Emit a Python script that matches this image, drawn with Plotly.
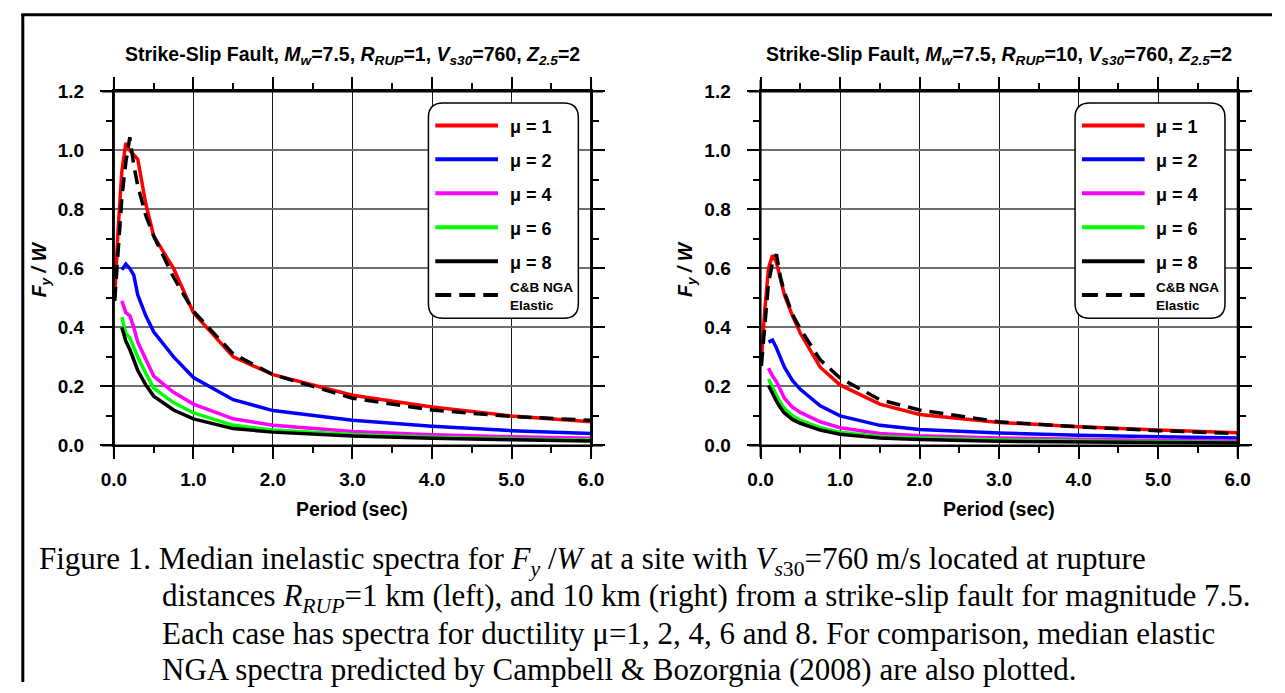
import plotly.graph_objects as go

# ---------------- data ----------------
PERIOD_ELASTIC = [0.01, 0.05, 0.1, 0.15, 0.2, 0.25, 0.3, 0.4, 0.5, 0.75, 1.0, 1.5, 2.0, 3.0, 4.0, 5.0, 6.0]
PERIOD_INELASTIC = [0.1, 0.15, 0.2, 0.25, 0.3, 0.4, 0.5, 0.75, 1.0, 1.5, 2.0, 3.0, 4.0, 5.0, 6.0]

# Left panel: R_RUP = 1 km
L_MU1 = [0.50, 0.72, 0.93, 1.025, 1.00, 0.985, 0.97, 0.82, 0.71, 0.60, 0.45, 0.30, 0.24, 0.17, 0.13, 0.10, 0.08]
L_ELASTIC = [0.49, 0.66, 0.84, 0.96, 1.045, 0.95, 0.88, 0.78, 0.71, 0.57, 0.455, 0.31, 0.24, 0.16, 0.12, 0.098, 0.085]
L_MU2 = [0.595, 0.615, 0.60, 0.577, 0.51, 0.44, 0.385, 0.30, 0.23, 0.155, 0.118, 0.085, 0.065, 0.05, 0.04]
L_MU4 = [0.49, 0.45, 0.44, 0.40, 0.35, 0.29, 0.235, 0.18, 0.14, 0.09, 0.068, 0.047, 0.036, 0.029, 0.024]
L_MU6 = [0.435, 0.38, 0.365, 0.33, 0.30, 0.245, 0.194, 0.145, 0.11, 0.068, 0.052, 0.037, 0.028, 0.022, 0.018]
L_MU8 = [0.40, 0.353, 0.325, 0.29, 0.254, 0.205, 0.167, 0.12, 0.09, 0.057, 0.045, 0.032, 0.024, 0.019, 0.015]

# Right panel: R_RUP = 10 km
R_MU1 = [0.285, 0.45, 0.60, 0.645, 0.62, 0.56, 0.51, 0.44, 0.38, 0.265, 0.205, 0.14, 0.105, 0.078, 0.063, 0.052, 0.043]
R_ELASTIC = [0.27, 0.40, 0.55, 0.62, 0.648, 0.57, 0.52, 0.445, 0.395, 0.29, 0.228, 0.155, 0.12, 0.08, 0.063, 0.05, 0.04]
R_MU2 = [0.35, 0.357, 0.33, 0.30, 0.265, 0.22, 0.19, 0.134, 0.10, 0.068, 0.054, 0.042, 0.034, 0.029, 0.025]
R_MU4 = [0.262, 0.235, 0.216, 0.19, 0.16, 0.13, 0.112, 0.08, 0.06, 0.04, 0.033, 0.025, 0.02, 0.017, 0.015]
R_MU6 = [0.225, 0.195, 0.17, 0.145, 0.125, 0.10, 0.085, 0.06, 0.045, 0.03, 0.025, 0.018, 0.015, 0.012, 0.01]
R_MU8 = [0.203, 0.175, 0.15, 0.128, 0.11, 0.088, 0.075, 0.052, 0.038, 0.025, 0.02, 0.014, 0.011, 0.009, 0.008]

SERIES_NAMES = ["μ = 1", "μ = 2", "μ = 4", "μ = 6", "μ = 8"]
SERIES_COLORS = ["#ff0000", "#0000ff", "#ff00ff", "#00ff00", "#000000"]
X_TICKS = [0, 1, 2, 3, 4, 5, 6]
X_TICK_LABELS = ["0.0", "1.0", "2.0", "3.0", "4.0", "5.0", "6.0"]
Y_TICKS = [0.0, 0.2, 0.4, 0.6, 0.8, 1.0, 1.2]
Y_TICK_LABELS = ["0.0", "0.2", "0.4", "0.6", "0.8", "1.0", "1.2"]

TITLE_LEFT = ("<b>Strike-Slip Fault, <i>M<sub>w</sub></i>=7.5, <i>R<sub>RUP</sub></i>=1, "
              "<i>V<sub>s30</sub></i>=760, <i>Z<sub>2.5</sub></i>=2</b>")
TITLE_RIGHT = ("<b>Strike-Slip Fault, <i>M<sub>w</sub></i>=7.5, <i>R<sub>RUP</sub></i>=10, "
               "<i>V<sub>s30</sub></i>=760, <i>Z<sub>2.5</sub></i>=2</b>")
CAPTION = [
    "Figure 1. Median inelastic spectra for <i>F<sub>y</sub></i> /<i>W</i> at a site with "
    "<i>V<sub>s</sub></i><sub>30</sub>=760 m/s located at rupture",
    "distances <i>R<sub>RUP</sub></i>=1 km (left), and 10 km (right) from a strike-slip fault for magnitude 7.5.",
    "Each case has spectra for ductility μ=1, 2, 4, 6 and 8. For comparison, median elastic",
    "NGA spectra predicted by Campbell &amp; Bozorgnia (2008) are also plotted.",
]

# ---------------- layout helpers ----------------
W, H = 1285, 693
SANS = "Liberation Sans, Arial, sans-serif"
SERIF = "Liberation Serif, Times New Roman, serif"


def fx(px):
    return px / W


def fy(py):
    return 1 - py / H


PANELS = [
    dict(xa="x", ya="y", x0=103, x1=590, title=TITLE_LEFT,
         data=[L_MU1, L_MU2, L_MU4, L_MU6, L_MU8], elastic=L_ELASTIC, leg_x=424),
    dict(xa="x2", ya="y2", x0=763, x1=1250, title=TITLE_RIGHT,
         data=[R_MU1, R_MU2, R_MU4, R_MU6, R_MU8], elastic=R_ELASTIC, leg_x=1084),
]
Y_TOP, Y_BOT = 84, 449

fig = go.Figure()
shapes = []
annotations = []

for p in PANELS:
    for i, (name, col, vals) in enumerate(zip(SERIES_NAMES, SERIES_COLORS, p["data"])):
        xs = PERIOD_ELASTIC if i == 0 else PERIOD_INELASTIC
        fig.add_trace(go.Scatter(x=xs, y=vals, mode="lines", name=name,
                                 line=dict(color=col, width=3.5),
                                 xaxis=p["xa"], yaxis=p["ya"], showlegend=False))
    fig.add_trace(go.Scatter(x=PERIOD_ELASTIC, y=p["elastic"], mode="lines",
                             name="C&B NGA Elastic",
                             line=dict(color="black", width=3.5, dash="14px,8px"),
                             xaxis=p["xa"], yaxis=p["ya"], showlegend=False))

axis_common = dict(
    ticks="outside", ticklen=12, tickwidth=2, tickcolor="black",
    showline=True, linewidth=2, linecolor="black", mirror="ticks",
    tickfont=dict(family=SANS, size=19, color="black"),
    zeroline=False, fixedrange=True,
)

for k, p in enumerate(PANELS):
    sfx = "" if k == 0 else "2"
    fig.layout["xaxis" + sfx] = dict(
        axis_common, domain=[fx(p["x0"]), fx(p["x1"])], range=[0, 6],
        tickmode="array", tickvals=X_TICKS, ticktext=["<b>%s</b>" % t for t in X_TICK_LABELS],
        minor=dict(dtick=0.5, tick0=0, ticks="outside", ticklen=6, tickwidth=2,
                   tickcolor="black", showgrid=False),
        showgrid=True, gridcolor="#1a1a1a", gridwidth=1,
        anchor="y" + sfx, ticklabelstandoff=4,
    )
    fig.layout["yaxis" + sfx] = dict(
        axis_common, domain=[fy(Y_BOT), fy(Y_TOP)], range=[0, 1.2],
        tickmode="array", tickvals=Y_TICKS, ticktext=["<b>%s</b>" % t for t in Y_TICK_LABELS],
        minor=dict(dtick=0.1, tick0=0, ticks="outside", ticklen=6, tickwidth=2,
                   tickcolor="black", showgrid=False),
        showgrid=True, gridcolor="#6e6e6e", gridwidth=1.5,
        anchor="x" + sfx, ticklabelstandoff=12,
    )

    # extended frame lines
    xd, yd = p["xa"] + " domain", p["ya"] + " domain"
    ex = 12 / (p["x1"] - p["x0"])
    ey = 12 / (Y_BOT - Y_TOP)
    for (a0, b0, a1, b1) in [(-ex, 0, 1 + ex, 0), (-ex, 1, 1 + ex, 1),
                             (0, -ey, 0, 1 + ey), (1, -ey, 1, 1 + ey)]:
        shapes.append(dict(type="line", xref=xd, yref=yd, x0=a0, y0=b0, x1=a1, y1=b1,
                           line=dict(color="black", width=2)))

    # title
    cx = (p["x0"] + p["x1"]) / 2
    annotations.append(dict(text=p["title"], x=fx(cx), y=fy(47), xref="paper", yref="paper",
                            showarrow=False, xanchor="center", yanchor="middle",
                            font=dict(family=SANS, size=19.5, color="black")))
    # axis titles
    annotations.append(dict(text="<b>Period (sec)</b>", x=fx(cx), y=fy(515), xref="paper", yref="paper",
                            showarrow=False, xanchor="center", yanchor="middle",
                            font=dict(family=SANS, size=19.5, color="black")))
    annotations.append(dict(text="<b><i>F<sub>y</sub> / W</i></b>", x=fx(p["x0"] - 75), y=fy(267),
                            xref="paper", yref="paper", textangle=-90,
                            showarrow=False, xanchor="center", yanchor="middle",
                            font=dict(family=SANS, size=19.5, color="black")))

    # legend box (rounded)
    lx0, lx1, ly0, ly1, r = p["leg_x"], p["leg_x"] + 153, 96, 318, 15
    pts = lambda a, b: "%.5f,%.5f" % (fx(a), fy(b))
    path = ("M " + pts(lx0 + r, ly0) + " L " + pts(lx1 - r, ly0) +
            " Q " + pts(lx1, ly0) + " " + pts(lx1, ly0 + r) +
            " L " + pts(lx1, ly1 - r) + " Q " + pts(lx1, ly1) + " " + pts(lx1 - r, ly1) +
            " L " + pts(lx0 + r, ly1) + " Q " + pts(lx0, ly1) + " " + pts(lx0, ly1 - r) +
            " L " + pts(lx0, ly0 + r) + " Q " + pts(lx0, ly0) + " " + pts(lx0 + r, ly0) + " Z")
    shapes.append(dict(type="path", xref="paper", yref="paper", path=path,
                       fillcolor="white", line=dict(color="black", width=1.5)))
    row_y = [119, 154, 189, 224, 259]
    for name, col, ry in zip(SERIES_NAMES, SERIES_COLORS, row_y):
        shapes.append(dict(type="line", xref="paper", yref="paper",
                           x0=fx(lx0 + 7), x1=fx(lx0 + 71), y0=fy(ry), y1=fy(ry),
                           line=dict(color=col, width=4)))
        annotations.append(dict(text="<b>%s</b>" % name, x=fx(lx0 + 81), y=fy(ry + 2),
                                xref="paper", yref="paper", showarrow=False,
                                xanchor="left", yanchor="middle",
                                font=dict(family=SANS, size=18, color="black")))
    shapes.append(dict(type="line", xref="paper", yref="paper",
                       x0=fx(lx0 + 7), x1=fx(lx0 + 71), y0=fy(294), y1=fy(294),
                       line=dict(color="black", width=4, dash="16px,8px")))
    annotations.append(dict(text="<b>C&amp;B NGA<br>Elastic</b>", x=fx(lx0 + 81), y=fy(295),
                            xref="paper", yref="paper", showarrow=False,
                            xanchor="left", yanchor="middle", align="left",
                            font=dict(family=SANS, size=13.5, color="black")))

# caption
cap_x = [24, 150, 150, 150]
cap_y = [568, 606, 643, 680]
for t, cxp, cyp in zip(CAPTION, cap_x, cap_y):
    annotations.append(dict(text=t, x=fx(cxp), y=fy(cyp), xref="paper", yref="paper",
                            showarrow=False, xanchor="left", yanchor="middle",
                            font=dict(family=SERIF, size=31, color="black")))

# outer border (left and top only)
shapes.append(dict(type="line", xref="paper", yref="paper", x0=fx(10), x1=fx(10), y0=0, y1=fy(4),
                   line=dict(color="black", width=3)))
shapes.append(dict(type="line", xref="paper", yref="paper", x0=fx(8.5), x1=1, y0=fy(5), y1=fy(5),
                   line=dict(color="black", width=3)))

fig.update_layout(
    width=W, height=H, autosize=False,
    margin=dict(l=0, r=0, t=0, b=0),
    paper_bgcolor="white", plot_bgcolor="white",
    showlegend=False, shapes=shapes, annotations=annotations,
)

fig.write_html("out.html", config={"displayModeBar": False})
